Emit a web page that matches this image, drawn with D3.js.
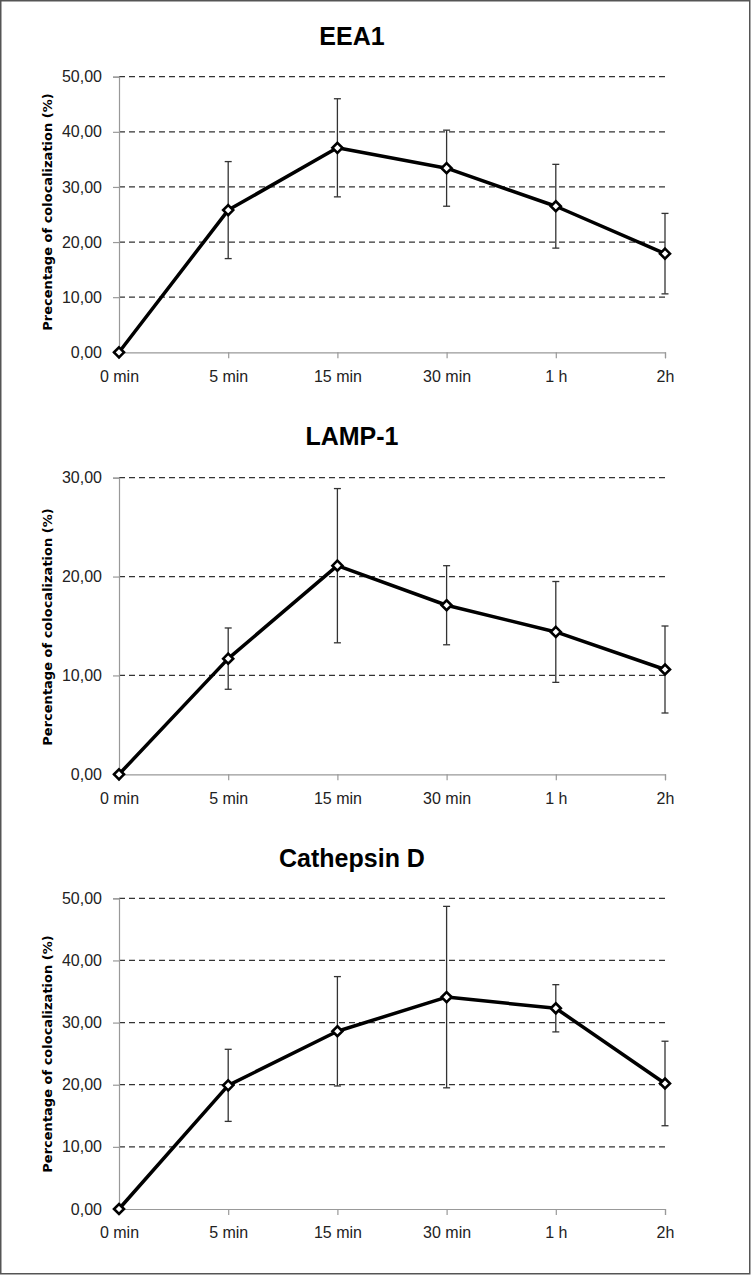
<!DOCTYPE html>
<html>
<head>
<meta charset="utf-8">
<script src="https://cdn.jsdelivr.net/npm/d3@7"></script>
<style>
  html, body { margin: 0; padding: 0; background: #fff; }
  svg { display: block; }
</style>
</head>
<body>
<svg id="chart" width="751" height="1275"></svg>
<script>
const categories = ["0 min", "5 min", "15 min", "30 min", "1 h", "2h"];

const eea1Values = [0, 25.8, 37.1, 33.4, 26.5, 17.9];
const eea1Errors = [0, 8.8, 8.9, 6.9, 7.6, 7.3];

const lamp1Values = [0, 11.7, 21.1, 17.1, 14.4, 10.6];
const lamp1Errors = [0, 3.1, 7.8, 4.0, 5.1, 4.4];

const cathValues = [0, 19.9, 28.6, 34.1, 32.3, 20.2];
const cathErrors = [0, 5.8, 8.8, 14.6, 3.8, 6.8];

const panelTitles = ["EEA1", "LAMP-1", "Cathepsin D"];
const axisTitles = [
  "Precentage of colocalization (%)",
  "Percentage of colocalization (%)",
  "Percentage of colocalization (%)"
];
const yTicks1 = [0, 10, 20, 30, 40, 50];
const yTicks2 = [0, 10, 20, 30];
const yTicks3 = [0, 10, 20, 30, 40, 50];

const svg = d3.select("#chart");

// outer frame
svg.append("rect")
  .attr("x", 0.75).attr("y", 0.75)
  .attr("width", 749).attr("height", 1273)
  .attr("fill", "none").attr("stroke", "#555").attr("stroke-width", 1.5);

const panels = [
  { values: eea1Values, errors: eea1Errors, ticks: yTicks1, title: panelTitles[0], ytitle: axisTitles[0],
    top: 76.7, bottom: 352.3, titleY: 45, ytitleY: 212 },
  { values: lamp1Values, errors: lamp1Errors, ticks: yTicks2, title: panelTitles[1], ytitle: axisTitles[1],
    top: 477.7, bottom: 774.3, titleY: 445, ytitleY: 627 },
  { values: cathValues, errors: cathErrors, ticks: yTicks3, title: panelTitles[2], ytitle: axisTitles[2],
    top: 898.3, bottom: 1209, titleY: 867, ytitleY: 1054 }
];

const x = d3.scalePoint().domain(categories).range([119, 665]);
const labelFont = "'Liberation Sans', Arial, sans-serif";

panels.forEach(p => {
  const g = svg.append("g");
  const yMax = d3.max(p.ticks);
  const y = d3.scaleLinear().domain([0, yMax]).range([p.bottom, p.top]);

  // title
  g.append("text")
    .attr("x", 352).attr("y", p.titleY)
    .attr("text-anchor", "middle")
    .attr("font-family", labelFont)
    .attr("font-weight", "bold")
    .attr("font-size", 25)
    .attr("fill", "#000")
    .text(p.title);

  // y-axis title
  g.append("text")
    .attr("transform", `translate(52,${p.ytitleY}) rotate(-90)`)
    .attr("text-anchor", "middle")
    .attr("font-family", "'DejaVu Sans', Verdana, sans-serif")
    .attr("font-weight", "bold")
    .attr("font-size", 13)
    .attr("fill", "#000")
    .text(p.ytitle);

  // gridlines (dashed), except zero
  g.selectAll(".grid")
    .data(p.ticks.filter(t => t > 0))
    .enter().append("line")
    .attr("x1", x.range()[0]).attr("x2", x.range()[1])
    .attr("y1", d => y(d)).attr("y2", d => y(d))
    .attr("stroke", "#333").attr("stroke-width", 1.3)
    .attr("stroke-dasharray", "6,4");

  // y axis
  const yAxis = d3.axisLeft(y)
    .tickValues(p.ticks)
    .tickSize(6)
    .tickPadding(11)
    .tickFormat(d => d3.format(".2f")(d).replace(".", ","));
  const ya = g.append("g").attr("transform", `translate(${x.range()[0]},0)`).call(yAxis);
  ya.select(".domain").attr("stroke", "#999").attr("stroke-width", 1.2);
  ya.selectAll(".tick line").attr("stroke", "#999").attr("stroke-width", 1.2);
  ya.selectAll(".tick text")
    .attr("font-family", labelFont).attr("font-size", 16).attr("fill", "#222");

  // x axis
  const xAxis = d3.axisBottom(x).tickSize(6).tickPadding(12);
  const xa = g.append("g").attr("transform", `translate(0,${p.bottom})`).call(xAxis);
  xa.select(".domain").attr("stroke", "#999").attr("stroke-width", 1.2);
  xa.selectAll(".tick line").attr("stroke", "#999").attr("stroke-width", 1.2);
  xa.selectAll(".tick text")
    .attr("font-family", labelFont).attr("font-size", 16).attr("fill", "#222");

  const pts = categories.map((c, i) => ({ c, v: p.values[i], e: p.errors[i] }));

  // error bars
  const eb = g.selectAll(".err").data(pts.filter(d => d.e > 0)).enter().append("g");
  eb.append("line")
    .attr("x1", d => x(d.c)).attr("x2", d => x(d.c))
    .attr("y1", d => y(d.v + d.e)).attr("y2", d => y(d.v - d.e))
    .attr("stroke", "#333").attr("stroke-width", 1.3);
  [1, -1].forEach(s => {
    eb.append("line")
      .attr("x1", d => x(d.c) - 3.5).attr("x2", d => x(d.c) + 3.5)
      .attr("y1", d => y(d.v + s * d.e)).attr("y2", d => y(d.v + s * d.e))
      .attr("stroke", "#333").attr("stroke-width", 1.3);
  });

  // line
  g.append("path")
    .datum(pts)
    .attr("d", d3.line().x(d => x(d.c)).y(d => y(d.v)))
    .attr("fill", "none").attr("stroke", "#000").attr("stroke-width", 3.5)
    .attr("stroke-linejoin", "round");

  // markers (diamonds)
  const r = 5;
  g.selectAll(".mk").data(pts).enter().append("path")
    .attr("d", d => {
      const cx = x(d.c), cy = y(d.v);
      return `M${cx},${cy - r}L${cx + r},${cy}L${cx},${cy + r}L${cx - r},${cy}Z`;
    })
    .attr("fill", "#fff").attr("stroke", "#000").attr("stroke-width", 2.6);
});
</script>
</body>
</html>
